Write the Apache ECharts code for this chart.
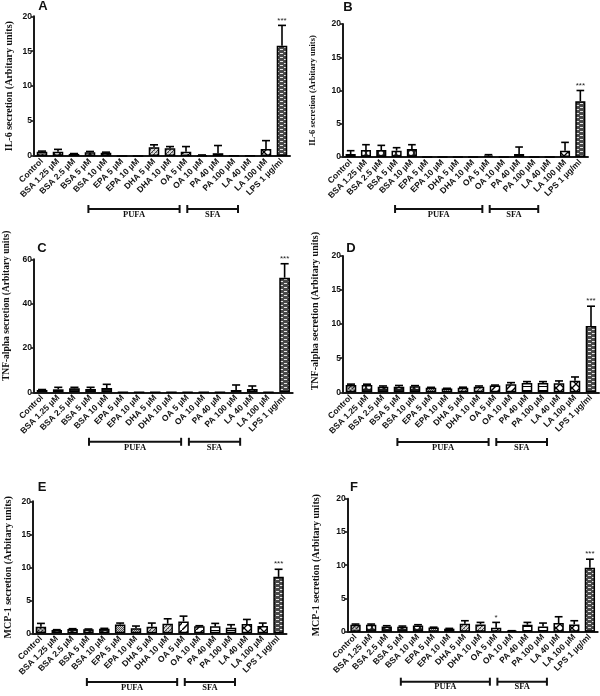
<!DOCTYPE html>
<html><head><meta charset="utf-8">
<script src="https://cdn.jsdelivr.net/npm/echarts@6/dist/echarts.min.js"></script>
<style>html,body{margin:0;padding:0;background:#fff}#c{width:600px;height:696px}</style>
</head><body><div id="c"></div>
<script>
// ---------- data ----------
const categories = ['Control','BSA 1.25 µM','BSA 2.5 µM','BSA 5 µM','BSA 10 µM','EPA 5 µM','EPA 10 µM','DHA 5 µM','DHA 10 µM','OA 5 µM','OA 10 µM','PA 40 µM','PA 100 µM','LA 40 µM','LA 100 µM','LPS 1 µg/ml'];
const groups = ['ctrl','bsa','bsa','bsa','bsa','epa','epa','dha','dha','oa','oa','pa','pa','la','la','lps'];

const aMean = [0.6,0.6,0.3,0.55,0.45,0,0,1.25,1.1,0.6,0.1,0.4,0.05,0.05,1.0,15.8];
const aErr  = [0.1,0.35,0.05,0.1,0.1,0,0,0.35,0.25,0.75,0.05,1.1,0,0,1.2,2.9];
const bMean = [0.45,1.05,1.05,0.95,1.2,0,0,0,0,0.2,0,0.45,0,0,0.95,8.4];
const bErr  = [0.5,0.8,0.7,0.45,0.65,0,0,0,0,0.15,0,1.05,0,0,1.25,1.6];
const cMean = [1.05,1.35,1.8,1.5,1.95,0.1,0.1,0.1,0.1,0.1,0.1,0.1,1.05,1.5,0.1,51.7];
const cErr  = [0.2,0.9,0.45,0.75,1.65,0,0,0,0,0,0,0,2.25,1.35,0,6.3];
const dMean = [1.08,1.07,0.83,0.83,0.88,0.68,0.54,0.68,0.83,0.98,1.17,1.37,1.37,1.32,1.7,9.73];
const dErr  = [0.12,0.12,0.1,0.17,0.1,0.05,0.05,0.07,0.1,0.08,0.25,0.2,0.2,0.35,0.55,2.9];
const eMean = [1.0,0.5,0.65,0.6,0.7,1.35,0.75,1.0,1.45,1.8,1.05,1.05,0.85,1.4,1.1,8.55];
const eErr  = [0.5,0.05,0.05,0.05,0.05,0.2,0.35,0.55,0.75,0.8,0.1,0.45,0.45,0.7,0.45,1.15];
const fMean = [1.05,1.05,0.8,0.75,0.95,0.65,0.45,1.2,1.1,0.6,0.1,1.05,0.8,1.3,1.1,9.6];
const fErr  = [0.1,0.1,0.1,0.1,0.1,0.03,0.05,0.45,0.3,0.8,0.05,0.35,0.5,0.95,0.55,1.3];

const sigA = ['','','','','','','','','','','','','','','','***'];
const sigF = ['','','','','','','','','','*','','','','','','***'];

const panelLetters = ['A','B','C','D','E','F'];
const yNames = ['IL-6 secretion (Arbitary units)','IL-6 secretion (Arbitary units)',
  'TNF-alpha secretion (Arbitary units)','TNF-alpha secretion (Arbitary units)',
  'MCP-1 secretion (Arbitary units)','MCP-1 secretion (Arbitary units)'];
const yMax = [20,20,60,20,20,20];
const yInterval = [5,5,20,5,5,5];
const bracketLabels = ['PUFA','SFA'];

const means = [aMean,bMean,cMean,dMean,eMean,fMean];
const errs  = [aErr,bErr,cErr,dErr,eErr,fErr];
const sigs  = [sigA,sigA,sigA,sigA,sigA,sigF];

// ---------- layout ----------
const layout = [
  {left:34,  top:16.3,  width:256,   height:139.7, nameSize:10,  nameGap:20, namePad:0,  bdy:53,  lx:43,  ly:6},
  {left:343, top:24,    width:245,   height:133,   nameSize:8.5, nameGap:26, namePad:0,  bdy:52,  lx:348, ly:7},
  {left:34,  top:259.3, width:258.7, height:133,   nameSize:9.5, nameGap:22, namePad:40, bdy:49.5,lx:42,  ly:248},
  {left:343, top:256,   width:256,   height:136.3, nameSize:10,  nameGap:23, namePad:26, bdy:49.7,lx:351, ly:248},
  {left:33,  top:501.3, width:253.5, height:132,   nameSize:10,  nameGap:20, namePad:0,  bdy:48.7,lx:42,  ly:487},
  {left:347.7,top:498.7,width:250,   height:133,   nameSize:10,  nameGap:26, namePad:0,  bdy:50,  lx:354, ly:487}
];
const bracketSpans = [[2.9,8.6],[9.08,12.25]];

// ---------- patterns ----------
function tile(w,h,draw){const c=document.createElement('canvas');c.width=w;c.height=h;const g=c.getContext('2d');draw(g,w,h);return {image:c,repeat:'repeat'};}
const patterns = {
  ctrl: tile(4,4,(g)=>{g.fillStyle='#8a8a8a';g.fillRect(0,0,4,4);g.fillStyle='#2a2a2a';g.fillRect(0,0,1,1);g.fillRect(2,2,1,1);g.fillRect(1,3,1,1);g.fillStyle='#d8d8d8';g.fillRect(2,0,1,1);g.fillRect(0,2,1,1);}),
  bsa: tile(6,6,(g)=>{g.fillStyle='#1e1e1e';g.fillRect(0,0,6,6);g.fillStyle='#fff';g.beginPath();g.arc(3,3,2.1,0,Math.PI*2);g.fill();}),
  epa: tile(2,2,(g)=>{g.fillStyle='#cfcfcf';g.fillRect(0,0,2,2);g.fillStyle='#555';g.fillRect(0,0,1,1);g.fillRect(1,1,1,1);}),
  dha: tile(4,4,(g)=>{g.fillStyle='#d8d8d8';g.fillRect(0,0,4,4);g.fillStyle='#444';for(let i=0;i<4;i++){g.fillRect(i,3-i,1,1);}g.fillStyle='#888';g.fillRect(0,0,1,1);g.fillRect(2,2,1,1);}),
  oa: tile(7,7,(g)=>{g.fillStyle='#fff';g.fillRect(0,0,7,7);g.strokeStyle='#000';g.lineWidth=1.5;g.beginPath();g.moveTo(-1,8);g.lineTo(8,-1);g.stroke();}),
  pa: tile(4,4,(g)=>{g.fillStyle='#fff';g.fillRect(0,0,4,4);g.fillStyle='#000';g.fillRect(0,2,4,1);}),
  la: tile(8,8,(g)=>{g.fillStyle='#fff';g.fillRect(0,0,8,8);g.strokeStyle='#000';g.lineWidth=1.3;g.beginPath();g.moveTo(0,0);g.lineTo(8,8);g.moveTo(8,0);g.lineTo(0,8);g.stroke();}),
  lps: tile(8,4,(g)=>{g.fillStyle='#4a4a4a';g.fillRect(0,0,8,4);g.fillStyle='#e6e6e6';g.fillRect(0,1,3,1);g.fillRect(4,3,3,1);})
};

// ---------- option ----------
const FONT = 'Liberation Sans';
const SERIF = 'Liberation Serif';
const grids=[],xAxes=[],yAxes=[],series=[];
for(let p=0;p<6;p++){
  const L=layout[p];
  grids.push({left:L.left,top:L.top,width:L.width,height:L.height,containLabel:false});
  xAxes.push({type:'category',gridIndex:p,data:categories,
    axisLine:{lineStyle:{color:'#1a1a1a',width:2}},axisTick:{show:false},
    axisLabel:{interval:0,rotate:45,fontSize:8.5,fontWeight:'bold',fontFamily:FONT,color:'#111',margin:4}});
  yAxes.push({type:'value',gridIndex:p,min:0,max:yMax[p],interval:yInterval[p],
    name:yNames[p],nameLocation:'middle',nameGap:L.nameGap,nameRotate:90,
    nameTextStyle:{fontFamily:SERIF,fontWeight:'bold',fontSize:L.nameSize,color:'#111',padding:[0,0,0,L.namePad]},
    axisLine:{show:true,lineStyle:{color:'#1a1a1a',width:2}},
    axisTick:{show:true,length:3,lineStyle:{color:'#1a1a1a',width:1.6}},
    axisLabel:{fontSize:8.5,fontWeight:'bold',fontFamily:FONT,color:'#111',margin:2},
    splitLine:{show:false}});
  series.push({type:'bar',xAxisIndex:p,yAxisIndex:p,barWidth:'66%',animation:false,
    data:means[p].map((v,i)=>({value:v,itemStyle:{color:patterns[groups[i]],borderColor:'#000',borderWidth:1.5}}))});
  const sg=sigs[p];
  series.push({type:'custom',xAxisIndex:p,yAxisIndex:p,animation:false,silent:true,
    data:means[p].map((v,i)=>[i,v,errs[p][i]]),
    encode:{x:0,y:1},
    renderItem:function(params,api){
      const i=api.value(0),m=api.value(1),e=api.value(2);
      const base=api.coord([i,m]);const top=api.coord([i,m+e]);
      const bw=api.size([1,0])[0];const cap=bw*0.5;
      const ch=[];
      if(e>0){
        ch.push({type:'line',shape:{x1:base[0],y1:base[1],x2:top[0],y2:top[1]},style:{stroke:'#000',lineWidth:1.6}});
        ch.push({type:'line',shape:{x1:top[0]-cap/2,y1:top[1],x2:top[0]+cap/2,y2:top[1]},style:{stroke:'#000',lineWidth:1.6}});
      }
      const s=sg[params.dataIndex];
      if(s){ch.push({type:'text',style:{text:s,x:top[0],y:top[1]-1,align:'center',verticalAlign:'bottom',fontSize:8,fontFamily:FONT,fill:'#222'}});}
      return {type:'group',children:ch};
    }});
}
const chart=echarts.init(document.getElementById('c'),null,{renderer:'canvas'});
chart.setOption({animation:false,backgroundColor:'#fff',grid:grids,xAxis:xAxes,yAxis:yAxes,series:series});

// ---------- annotations (letters & brackets) ----------
const graphics=[];
for(let p=0;p<6;p++){
  const L=layout[p];
  graphics.push({type:'text',x:L.lx,y:L.ly,style:{text:panelLetters[p],fontSize:13,fontWeight:'bold',fontFamily:FONT,fill:'#111',align:'center',verticalAlign:'middle'}});
  const x0=chart.convertToPixel({xAxisIndex:p},0);
  const x15=chart.convertToPixel({xAxisIndex:p},15);
  const step=(x15-x0)/15;
  const by=L.top+L.height+L.bdy;
  bracketSpans.forEach((sp,k)=>{
    const a=x0+sp[0]*step,b=x0+sp[1]*step;
    graphics.push({type:'line',shape:{x1:a,y1:by,x2:b,y2:by},style:{stroke:'#111',lineWidth:2}});
    graphics.push({type:'line',shape:{x1:a,y1:by-4,x2:a,y2:by+4},style:{stroke:'#111',lineWidth:2}});
    graphics.push({type:'line',shape:{x1:b,y1:by-4,x2:b,y2:by+4},style:{stroke:'#111',lineWidth:2}});
    graphics.push({type:'text',x:(a+b)/2,y:by+5.5,style:{text:bracketLabels[k],fontSize:8.5,fontWeight:'bold',fontFamily:SERIF,fill:'#111',align:'center',verticalAlign:'middle'}});
  });
}
chart.setOption({graphic:graphics});
</script>
</body></html>
